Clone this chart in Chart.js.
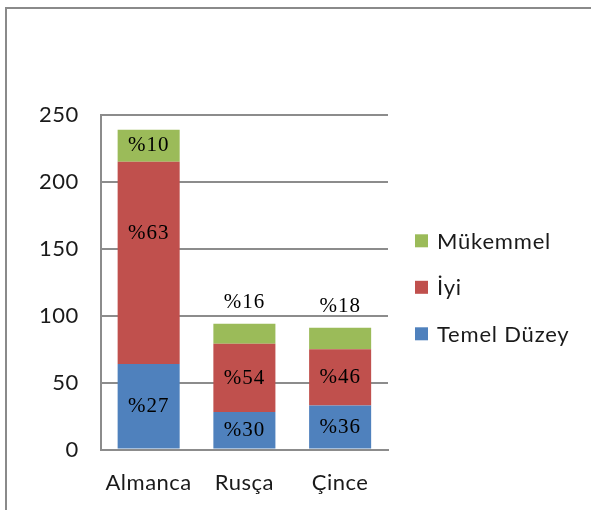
<!DOCTYPE html>
<html>
<head>
<meta charset="utf-8">
<script src="https://cdn.jsdelivr.net/npm/chart.js@4.4.1/dist/chart.umd.min.js"></script>
<style>
  html, body { margin: 0; padding: 0; background: #fff; }
  #frame { position: absolute; left: 5px; top: 7px; width: 600px; height: 520px;
           border-top: 2px solid #8a8a8a; border-left: 2px solid #8a8a8a; }
  #chart { position: absolute; left: 0; top: 0; }
</style>
</head>
<body>
<div id="frame"></div>
<canvas id="chart" width="591" height="510"></canvas>
<script>
// dil seviyeleri (öğrenci sayısı)
const categories = ['Almanca', 'Rusça', 'Çince'];
const temelDuzey = [64, 28, 33];
const iyi = [151, 51, 42];
const mukemmel = [24, 15, 16];
const yTicks = [0, 50, 100, 150, 200, 250];

const gridColor = '#8c8c8c';
const textColor = '#1a1a1a';
const sansFont = '22px Lato, sans-serif';

// yüzde etiketleri: her dilimin yüzdesi, dilimin ortasına (küçük üst dilimde barın üstüne)
const percentLabels = {
  id: 'percentLabels',
  afterDatasetsDraw(chart, args, opts) {
    const ctx = chart.ctx;
    const sets = chart.data.datasets;
    ctx.save();
    ctx.letterSpacing = '1px';
    ctx.font = '21px "Liberation Serif", serif';
    ctx.fillStyle = '#000';
    ctx.textAlign = 'center';
    ctx.textBaseline = 'middle';
    categories.forEach((c, i) => {
      const total = sets.reduce((s, d) => s + d.data[i], 0);
      sets.forEach((ds, di) => {
        const bar = chart.getDatasetMeta(di).data[i];
        const pct = Math.round(ds.data[i] / total * 100);
        const h = bar.base - bar.y;
        let y = bar.y + h / 2;
        if (di === sets.length - 1 && h < 25) y = bar.y - 21;
        const nudge = (opts.nudge[di] || {})[i] || 0;
        ctx.fillText('%' + pct, bar.x, y + nudge);
      });
    });
    ctx.restore();
  }
};

// sağdaki lejant (ters sırada)
const sideLegend = {
  id: 'sideLegend',
  afterDraw(chart) {
    const ctx = chart.ctx;
    const area = chart.chartArea;
    const sets = chart.data.datasets.slice().reverse();
    const step = 46.5;
    const mid = (area.top + area.bottom) / 2 + 5;
    ctx.save();
    ctx.letterSpacing = '0.8px';
    ctx.font = sansFont;
    ctx.fillStyle = textColor;
    ctx.textBaseline = 'middle';
    sets.forEach((ds, k) => {
      const y = mid + (k - (sets.length - 1) / 2) * step;
      const x = area.right + 27;
      ctx.fillStyle = ds.backgroundColor;
      ctx.fillRect(x, y - 6.5, 13, 13);
      ctx.fillStyle = textColor;
      ctx.fillText(ds.label, x + 22, y + 1);
    });
    ctx.restore();
  }
};

const spacing = {
  id: 'spacing',
  beforeLayout(chart) { chart.ctx.letterSpacing = '0.5px'; },
  beforeDraw(chart) { chart.ctx.letterSpacing = '0.5px'; }
};

new Chart(document.getElementById('chart'), {
  type: 'bar',
  data: {
    labels: categories,
    datasets: [
      { label: 'Temel Düzey', data: temelDuzey, backgroundColor: '#4f81bd' },
      { label: 'İyi', data: iyi, backgroundColor: '#c0504d' },
      { label: 'Mükemmel', data: mukemmel, backgroundColor: '#9bbb59' }
    ]
  },
  options: {
    responsive: false,
    animation: false,
    devicePixelRatio: 1,
    layout: { padding: { top: 115, left: 17, right: 203, bottom: 2 } },
    datasets: { bar: { barPercentage: 0.8, categoryPercentage: 0.81 } },
    plugins: {
      legend: { display: false },
      tooltip: { enabled: false },
      percentLabels: { nudge: { 1: { 0: -29 } } }
    },
    scales: {
      x: {
        stacked: true,
        grid: { display: false },
        border: { display: true, color: gridColor, width: 2 },
        ticks: { color: textColor, padding: 12, font: { family: 'Lato', size: 22 } }
      },
      y: {
        stacked: true,
        min: 0,
        max: 250,
        afterBuildTicks(axis) { axis.ticks = yTicks.map(v => ({ value: v })); },
        grid: { color: gridColor, lineWidth: 2, drawTicks: false },
        border: { display: true, color: gridColor, width: 2 },
        ticks: { color: textColor, padding: 22, font: { family: 'Lato', size: 22 } }
      }
    }
  },
  plugins: [spacing, percentLabels, sideLegend]
});
</script>
</body>
</html>
